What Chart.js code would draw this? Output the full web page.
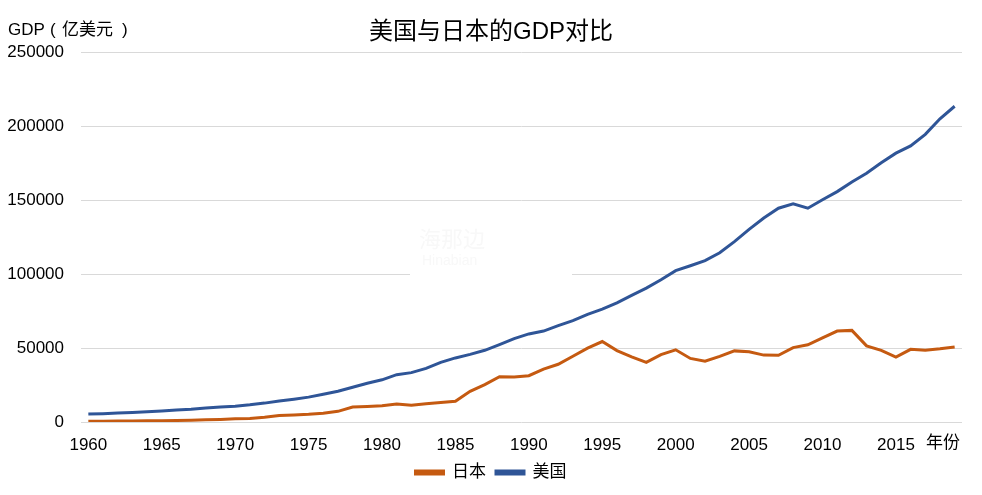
<!DOCTYPE html>
<html>
<head>
<meta charset="utf-8">
<script src="https://cdn.jsdelivr.net/npm/chart.js@4.4.1/dist/chart.umd.min.js"></script>
<style>
  html, body { margin: 0; padding: 0; background: #fff; }
  #wrap { width: 982px; height: 495px; }
</style>
</head>
<body>
<div id="wrap"><canvas id="gdp"></canvas></div>
<script>
// 年份 1960-2019
const years = [];
for (let y = 1960; y <= 2019; y++) years.push(String(y));

// 日本 GDP（亿美元）
const japanGDP = [
  443, 535, 607, 695, 817, 910, 1056, 1238, 1466, 1722,
  2126, 2402, 3180, 4321, 4796, 5215, 5862, 7214, 10136, 10550,
  11054, 12189, 11345, 12433, 13184, 13989, 20789, 25328, 30717, 30549,
  31328, 35844, 39088, 44541, 49988, 54491, 48337, 44147, 40325, 45621,
  48875, 43035, 41151, 44457, 48151, 47554, 45304, 45153, 50379, 52314,
  57001, 61575, 62032, 51557, 48504, 43895, 49225, 48669, 49548, 50818
];

// 美国 GDP（亿美元）
const usGDP = [
  5433, 5633, 6051, 6386, 6858, 7437, 8150, 8617, 9425, 10199,
  10733, 11649, 12791, 14254, 15452, 16849, 18734, 20818, 23516, 26273,
  28573, 32070, 33438, 36340, 40376, 43389, 45796, 48552, 52364, 56416,
  59631, 61581, 65203, 68586, 72872, 76397, 80731, 85776, 90628, 96312,
  102510, 105819, 109291, 114565, 122172, 130392, 138156, 144742, 147699, 144781,
  150490, 155997, 162540, 168432, 175507, 182060, 186951, 194773, 205331, 213809
];

const yTicks = [0, 50000, 100000, 150000, 200000, 250000];

const FONT = "'Liberation Sans', 'Noto Sans CJK SC', sans-serif";
const ORANGE = '#C55A11';
const BLUE = '#2F5597';

// extra texts: y axis caption, "年份" and the faint watermark
const extras = {
  id: 'extras',
  beforeDatasetsDraw(chart) {
    const ctx = chart.ctx;
    ctx.save();
    ctx.fillStyle = '#fff';
    ctx.fillRect(410, 226, 162, 50);
    ctx.fillStyle = '#f8f8f8';
    ctx.textAlign = 'left';
    ctx.textBaseline = 'middle';
    ctx.font = "22px 'Noto Sans CJK SC'";
    ctx.fillText('海那边', 419, 239);
    ctx.font = "14px 'Liberation Sans'";
    ctx.fillText('Hinabian', 422, 261);
    ctx.restore();
  },
  afterDraw(chart) {
    const ctx = chart.ctx;
    ctx.save();
    ctx.fillStyle = '#000';
    ctx.font = '17px ' + FONT;
    ctx.textBaseline = 'middle';
    ctx.textAlign = 'left';
    ctx.fillText('GDP', 8, 30);
    ctx.fillText('(', 50, 30);
    ctx.fillText('亿美元', 62, 30);
    ctx.fillText(')', 122, 30);
    ctx.textAlign = 'center';
    ctx.fillText('年份', 943, 443);
    ctx.restore();
  }
};

new Chart(document.getElementById('gdp'), {
  type: 'line',
  data: {
    labels: years,
    datasets: [
      { label: '日本', data: japanGDP, borderColor: ORANGE, backgroundColor: ORANGE,
        borderWidth: 3, pointRadius: 0, tension: 0 },
      { label: '美国', data: usGDP, borderColor: BLUE, backgroundColor: BLUE,
        borderWidth: 3, pointRadius: 0, tension: 0 }
    ]
  },
  options: {
    responsive: true,
    maintainAspectRatio: false,
    animation: false,
    layout: { padding: { left: 0, right: 0, top: 0, bottom: 4 } },
    plugins: {
      title: {
        display: true,
        text: '美国与日本的GDP对比',
        color: '#000',
        font: { family: FONT, size: 24, weight: 'normal' },
        padding: { top: 18, bottom: 6 }
      },
      legend: {
        position: 'bottom',
        labels: {
          color: '#000',
          font: { family: FONT, size: 17 },
          boxWidth: 28,
          boxHeight: 3,
          padding: 10
        }
      },
      tooltip: { enabled: false }
    },
    scales: {
      x: {
        type: 'category',
        offset: true,
        afterFit(scale) { scale.height = 32; },
        grid: { display: false },
        border: { display: false },
        ticks: {
          color: '#000',
          font: { family: FONT, size: 17 },
          autoSkip: false,
          maxRotation: 0,
          padding: 5,
          callback(v, i) { return (1960 + i) % 5 === 0 ? years[i] : ''; }
        }
      },
      y: {
        min: 0,
        max: 250000,
        afterFit(scale) { scale.width = 81; },
        afterBuildTicks(scale) { scale.ticks = yTicks.map(v => ({ value: v })); },
        grid: { color: '#d9d9d9', lineWidth: 1, drawTicks: false },
        border: { display: false },
        ticks: {
          color: '#000',
          font: { family: FONT, size: 17 },
          padding: 17,
          callback(v) { return String(v); }
        }
      },
      // empty right-hand spacer so the legend stays centred on the page
      pad: {
        type: 'linear',
        position: 'right',
        afterFit(scale) { scale.width = 20; },
        grid: { display: false },
        border: { display: false },
        ticks: { display: false }
      }
    }
  },
  plugins: [extras]
});
</script>
</body>
</html>
